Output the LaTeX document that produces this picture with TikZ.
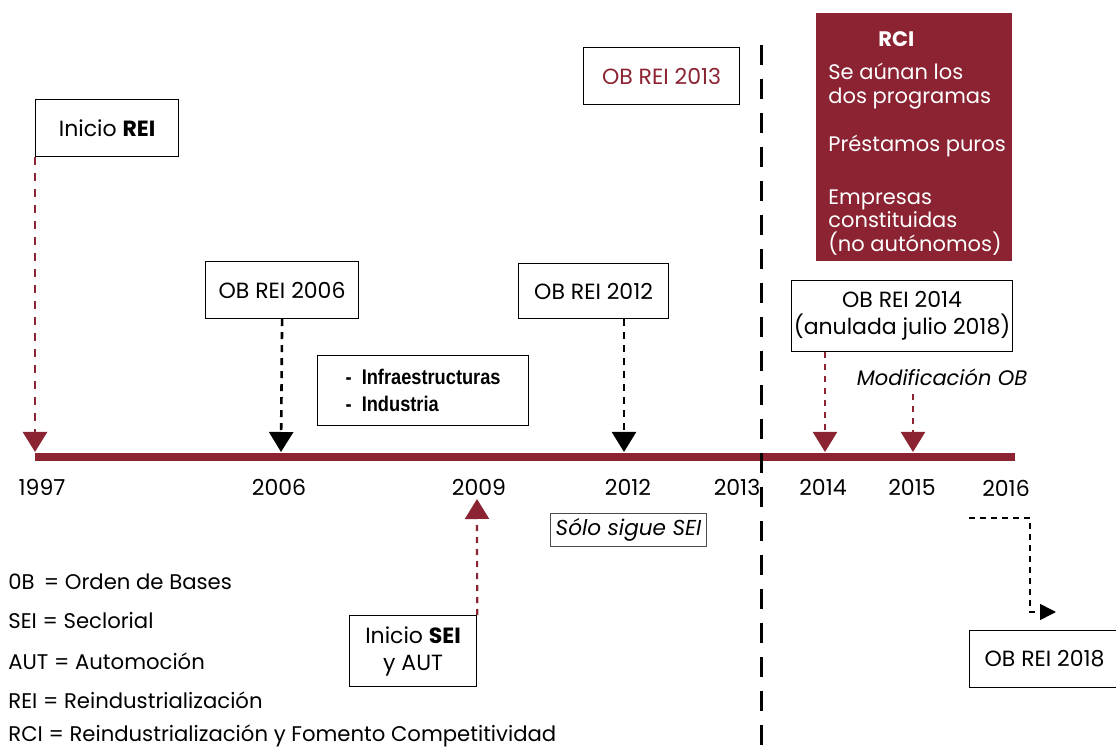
\documentclass[tikz,border=0pt]{standalone}
\usepackage{fontspec}
\setmainfont{Poppins}
\newfontfamily\narrowfont{Liberation Sans}[FakeStretch=0.86]
\usetikzlibrary{arrows.meta,positioning}
\definecolor{reired}{HTML}{8B2332}

\begin{document}
\begin{tikzpicture}[x=0.5pt,y=-0.5pt,font=\fontsize{11}{13.5}\selectfont,
  box/.style={draw, line width=0.6pt, align=center, inner sep=1pt},
  yearlab/.style={font=\fontsize{11}{13}\selectfont},
  legend/.style={anchor=west, inner sep=0pt, font=\fontsize{10.6}{12}\selectfont},
  redarrow/.style={draw=reired, line width=1.3pt, dash pattern=on 4pt off 4pt,
    -{Triangle[width=12pt,length=10pt,fill=reired]}},
  blackarrow/.style={draw=black, line width=1.3pt, dash pattern=on 3.5pt off 3pt,
    -{Triangle[width=12pt,length=10pt]}}]

\useasboundingbox (0,0) rectangle (1116,749);

\draw[reired, line width=4pt] (35,457) -- (1015,457);
\draw[line width=1.5pt, dash pattern=on 10pt off 7pt] (761,45) coordinate (sepa) -- (761,749) coordinate (sepb);

\node [yearlab] (y1997) at (42,487) {1997};
\node [yearlab] (y2006) at (279,487) {2006};
\node [yearlab] (y2009) at (479,487) {2009};
\node [yearlab] (y2012) at (628,487) {2012};
\node [yearlab] (y2013) at (737,487) {2013};
\node [yearlab] (y2014) at (823,487) {2014};
\node [yearlab] (y2015) at (912,487) {2015};
\node [yearlab] (y2016) at (1006,488) {2016};

\coordinate (t1997) at (35,452);
\coordinate (t2006) at (281,452);
\coordinate (t2009) at (477,499);
\coordinate (t2012) at (624,452);
\coordinate (t2014) at (825,452);
\coordinate (t2015) at (913,452);

\node [box, minimum width=71.5pt, minimum height=28.5pt, anchor=north west] (rei) at (35,99) {Inicio \textbf{REI}};
\node [box, minimum width=76.5pt, minimum height=28.5pt, anchor=north west] (ob06) at (205,261) {OB REI 2006};
\node [box, minimum width=105.5pt, minimum height=35pt, anchor=north west, align=left,
  font=\narrowfont\bfseries\fontsize{10.6}{13.5}\selectfont] (sect) at (317,355) {-\ \ Infraestructuras\\-\ \ Industria};
\node [box, minimum width=75pt, minimum height=27.5pt, anchor=north west] (ob12) at (518,263) {OB REI 2012};
\node [box, minimum width=78pt, minimum height=28.5pt, anchor=north west, text=reired] (ob13) at (583,47) {OB REI 2013};
\node [box, minimum width=110.5pt, minimum height=35.5pt, anchor=north west] (ob14) at (791,280) {OB REI 2014\\(anulada julio 2018)};
\node [font=\itshape\fontsize{10.5}{12}\selectfont, inner sep=1pt] (modif) at (942,377) {Modificación OB};
\node [box, minimum width=63.5pt, minimum height=35.5pt, anchor=north west] (sei) at (349,615) {Inicio \textbf{SEI}\\y AUT};
\node [box, draw=black!70, minimum width=78pt, minimum height=16.5pt, anchor=north west,
  font=\itshape\fontsize{10.8}{12}\selectfont] (sigue) at (550,513) {Sólo sigue SEI};
\node [box, minimum width=75pt, minimum height=28.5pt, anchor=north west] (ob18) at (969,630) {OB REI 2018};

\node [fill=reired, minimum width=98pt, minimum height=124pt, anchor=north west, inner sep=0pt] (rci) at (816,13) {};
\node [text=white, anchor=north west, align=left, inner sep=0pt, font=\fontsize{10.5}{11.75}\selectfont] (rcitext) at (828,31)
  {\hspace*{25pt}\textbf{RCI}\\[5pt]
   Se aúnan los\\dos programas\\[12.5pt]
   Préstamos puros\\[14.5pt]
   Empresas\\constituidas\\(no autónomos)};

\draw [redarrow] (rei.south west) -- (t1997);
\draw [blackarrow] (ob06.south) -- (t2006);
\draw [blackarrow, line width=1.1pt] (t2012 |- ob12.south) -- (t2012);
\draw [redarrow, line width=1.1pt, dash pattern=on 3pt off 3pt] (t2014 |- ob14.south) -- (t2014);
\draw [redarrow, line width=1.1pt, dash pattern=on 3pt off 3pt] (t2015 |- modif.south) ++(0,6) -- (t2015);
\draw [redarrow, line width=1.1pt, dash pattern=on 3pt off 3pt] (sei.north east) -- (t2009);

\coordinate (c2016) at (969,518);
\coordinate (e2016) at (1056,612);
\draw [line width=0.8pt, dash pattern=on 3pt off 2.5pt, -{Triangle[width=8pt,length=8pt]}]
  (c2016) -- ++(61,0) |- (e2016);

\node [legend] (lob) at (8,582) {0B \,= Orden de Bases};
\node [legend] (lsei) at (8,621) {SEI = Seclorial};
\node [legend] (laut) at (8,661) {AUT = Automoción};
\node [legend] (lrei) at (8,700) {REI = Reindustrialización};
\node [legend] (lrci) at (8,736) {RCI = Reindustrialización y Fomento Competitividad};

\end{tikzpicture}
\end{document}
